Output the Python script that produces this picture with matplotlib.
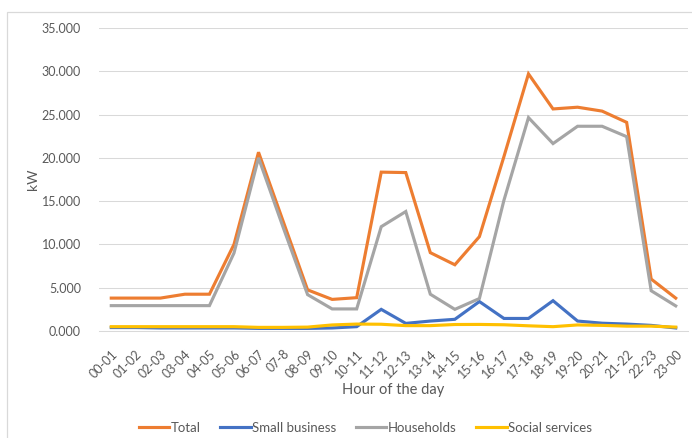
import numpy as np
import matplotlib.pyplot as plt
from matplotlib.patches import Rectangle
from matplotlib.ticker import FuncFormatter

hours = ["00-01", "01-02", "02-03", "03-04", "04-05", "05-06", "06-07", "07-8",
         "08-09", "09-10", "10-11", "11-12", "12-13", "13-14", "14-15", "15-16",
         "16-17", "17-18", "18-19", "19-20", "20-21", "21-22", "22-23", "23-00"]

total = [3800, 3800, 3800, 4250, 4250, 10000, 20650, 12700,
         4750, 3650, 3850, 18350, 18300, 9050, 7650, 10900,
         20150, 29700, 25650, 25850, 25400, 24100, 6000, 3800]
small_business = [400, 400, 350, 350, 350, 350, 300, 300,
                  300, 350, 500, 2500, 880, 1150, 1350, 3400,
                  1450, 1450, 3500, 1150, 900, 800, 650, 350]
households = [2930, 2930, 2930, 2930, 2930, 9000, 20000, 12000,
              4200, 2550, 2550, 12050, 13800, 4250, 2500, 3750,
              15100, 24650, 21650, 23650, 23650, 22450, 4650, 2900]
social_services = [500, 500, 500, 500, 500, 500, 420, 420,
                   450, 700, 800, 780, 620, 620, 750, 760,
                   720, 600, 500, 700, 650, 560, 560, 450]

series = [("Total", total, "#ED7D31"),
          ("Small business", small_business, "#4472C4"),
          ("Households", households, "#A5A5A5"),
          ("Social services", social_services, "#FFC000")]

plt.rcParams['font.family'] = ['Lato', 'DejaVu Sans']

fig = plt.figure(figsize=(6.92, 4.38), dpi=100)
# chart border like the spreadsheet frame
fig.patches.append(Rectangle((7 / 692, -0.01), 1.0, 1 - 12 / 438 + 0.01,
                             transform=fig.transFigure, fill=False,
                             edgecolor="#D9D9D9", linewidth=0.9))

ax = fig.add_axes([99 / 692, 1 - 331 / 438, (688 - 99) / 692, (331 - 28) / 438])

x = np.arange(len(hours))
for name, vals, col in series:
    ax.plot(x, vals, color=col, linewidth=2.25, label=name, solid_joinstyle="miter")

ax.set_xlim(-0.5, len(hours) - 0.5)
ax.set_ylim(0, 35000)
ax.set_yticks(np.arange(0, 35001, 5000))
ax.yaxis.set_major_formatter(FuncFormatter(lambda v, p: f"{v / 1000:.3f}"))
ax.set_xticks(x)
ax.set_xticklabels(hours, rotation=45, ha="right", rotation_mode="anchor")

ax.grid(axis="y", color="#D9D9D9", linewidth=0.75)
ax.set_axisbelow(True)
for s in ["top", "right", "left"]:
    ax.spines[s].set_visible(False)
ax.spines["bottom"].set_color("#D9D9D9")
ax.spines["bottom"].set_linewidth(0.75)
ax.tick_params(axis="both", length=0, colors="#595959", labelsize=9)
ax.tick_params(axis="y", pad=13)
ax.tick_params(axis="x", pad=12)

ax.set_ylabel("kW", color="#595959", fontsize=10, labelpad=2)
ax.set_xlabel("Hour of the day", color="#595959", fontsize=10.5, labelpad=2)

fig.legend(loc="center", bbox_to_anchor=(0.528, 1 - 428 / 438), ncol=4,
           frameon=False, fontsize=9.5, handlelength=2.3, handletextpad=0.1,
           columnspacing=1.5, labelcolor="#595959")

fig.savefig("out.png", dpi=100)
